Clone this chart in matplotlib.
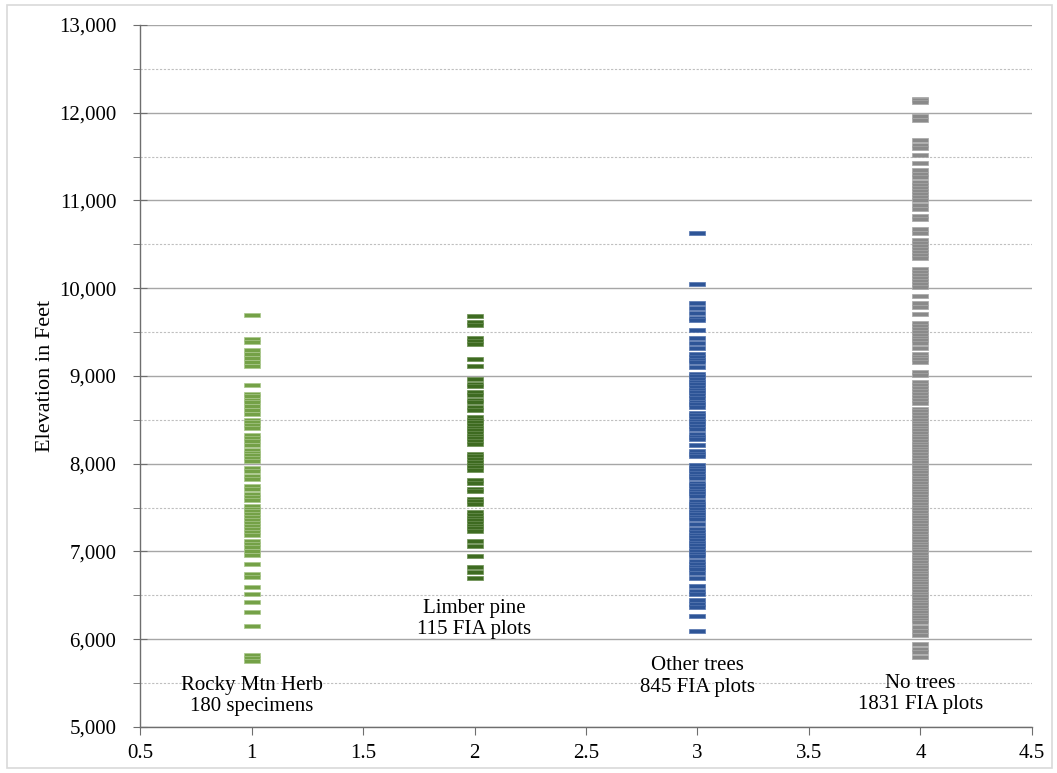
import numpy as np
import matplotlib.pyplot as plt
from matplotlib.patches import Rectangle
from matplotlib.ticker import MultipleLocator, StrMethodFormatter

plt.rcParams['font.family'] = ['Liberation Serif', 'DejaVu Serif']

# elevations (feet) for each group
rocky_herb = [9690, 9424, 9386, 9300, 9253, 9204, 9154, 9116, 8892,
              8797, 8767, 8732, 8702, 8653, 8615, 8569, 8500, 8470, 8436, 8402,
              8330, 8295, 8257, 8219, 8159, 8128, 8094, 8060, 8026, 7950, 7915,
              7858, 7824, 7752, 7714, 7657, 7619, 7589, 7516, 7486, 7456, 7425,
              7391, 7361, 7323, 7289, 7254, 7220, 7186, 7117, 7087, 7049, 7004,
              6965, 6859, 6745, 6707, 6600, 6517, 6422, 6308, 6156, 5822, 5787, 5749]

limber_pine = [9679, 9610, 9576, 9432, 9397, 9367, 9196, 9109, 8968, 8911, 8881,
               8816, 8786, 8729, 8702, 8645, 8615, 8531, 8500, 8470, 8440, 8409,
               8379, 8349, 8318, 8288, 8257, 8227, 8113, 8083, 8052, 8022, 7991,
               7961, 7931, 7817, 7779, 7714, 7687, 7600, 7570, 7539, 7448, 7418,
               7387, 7357, 7326, 7296, 7266, 7235, 7125, 7057, 6943, 6829, 6764, 6699]

other_trees = [10633, 10044, 9835, 9770, 9721, 9664, 9634, 9520, 9436, 9379, 9314,
               9246, 9216, 9185, 9155, 9102, 9026, 8996, 8965, 8935, 8904, 8874,
               8843, 8813, 8782, 8752, 8706, 8676, 8646, 8581, 8551, 8520, 8490,
               8459, 8429, 8399, 8334, 8304, 8277, 8212, 8144, 8114, 8083, 7984,
               7954, 7924, 7893, 7863, 7832, 7783, 7753, 7722, 7692, 7661, 7631,
               7574, 7544, 7513, 7483, 7452, 7422, 7392, 7369, 7308, 7251, 7221,
               7190, 7160, 7130, 7099, 7069, 7038, 7008, 6977, 6947, 6890, 6860,
               6829, 6799, 6757, 6700, 6605, 6548, 6510, 6442, 6404, 6366, 6263, 6092]

no_trees = [12160, 12140, 12127, 11958, 11916, 11692, 11629, 11599, 11515, 11430,
            11346, 11304, 11270, 11211, 11177, 11143, 11110, 11076, 11042, 11008,
            10945, 10903, 10818, 10789, 10671, 10629, 10553, 10519, 10485, 10451,
            10418, 10384, 10350, 10219, 10185, 10152, 10118, 10084, 10050, 10017,
            9911, 9827, 9785, 9709, 9607, 9573, 9540, 9506, 9472, 9438, 9405, 9371,
            9320, 9256, 9222, 9188, 9154, 9046, 9012, 8932, 8898, 8865, 8831, 8797,
            8763, 8730, 8696,
            8624, 8596, 8563, 8531, 8502, 8468, 8441, 8409, 8383, 8352, 8318, 8291,
            8262, 8228, 8201, 8168, 8142, 8109, 8081, 8047, 8021, 7988, 7962, 7929,
            7903, 7868, 7842, 7811, 7779, 7752, 7718, 7691, 7663, 7628, 7601, 7572,
            7538, 7512, 7481, 7452, 7419, 7392, 7361, 7333, 7298, 7271, 7242, 7208,
            7181, 7152, 7119, 7091, 7058, 7032, 7001, 6969, 6942, 6909, 6882, 6848,
            6821, 6792, 6758, 6731, 6702, 6668, 6641, 6612, 6579, 6552, 6521, 6488,
            6462, 6429, 6401, 6372, 6338, 6311, 6282, 6249, 6221, 6192,
            6135, 6092, 6050, 5950, 5885, 5850, 5800]

groups = [1, 2, 3, 4]
series = [rocky_herb, limber_pine, other_trees, no_trees]
labels = ['Rocky Mtn Herb\n180 specimens', 'Limber pine\n115 FIA plots',
          'Other trees\n845 FIA plots', 'No trees\n1831 FIA plots']
label_y = [5355, 6235, 5575, 5375]
face_colors = ['#74a147', '#3e6b21', '#2e5597', '#8a8a8a']
edge_colors = ['#a9c78b', '#6b8f52', '#5475b0', '#a8a8a8']

x_ticks = [0.5, 1, 1.5, 2, 2.5, 3, 3.5, 4, 4.5]
x_tick_labels = ['0.5', '1', '1.5', '2', '2.5', '3', '3.5', '4', '4.5']

# flat dash marker
dash = [(-1, -0.21), (1, -0.21), (1, 0.21), (-1, 0.21), (-1, -0.21)]

fig = plt.figure(figsize=(10.57, 7.73), dpi=100)
ax = fig.add_axes([0.1325, 0.0595, 0.8438, 0.9082])

for x, vals, fc, ec in zip(groups, series, face_colors, edge_colors):
    ax.plot(np.full(len(vals), x), vals, linestyle='none', marker=dash,
            markersize=11.5, markerfacecolor=fc, markeredgecolor=ec,
            markeredgewidth=0.5, zorder=3)

for x, y, txt in zip(groups, label_y, labels):
    ax.text(x, y, txt, ha='center', va='center', fontsize=15, linespacing=1.15)

ax.set_xlim(0.5, 4.5)
ax.set_ylim(5000, 13000)
ax.set_xticks(x_ticks)
ax.set_xticklabels(x_tick_labels)
ax.yaxis.set_major_locator(MultipleLocator(1000))
ax.yaxis.set_minor_locator(MultipleLocator(500))
ax.yaxis.set_major_formatter(StrMethodFormatter('{x:,.0f}'))

ax.grid(True, which='major', axis='y', color='#a6a6a6', linewidth=1.0, zorder=0)
ax.grid(True, which='minor', axis='y', color='#bfbfbf', linewidth=0.8,
        linestyle=(0, (2, 1.5)), zorder=0)
ax.set_axisbelow(True)

for side in ['top', 'right']:
    ax.spines[side].set_visible(False)
for side in ['left', 'bottom']:
    ax.spines[side].set_color('#6e6e6e')
    ax.spines[side].set_linewidth(1.0)

ax.tick_params(axis='y', which='major', direction='inout', length=10,
               color='#6e6e6e', labelsize=15, pad=12)
ax.tick_params(axis='y', which='minor', direction='out', length=5, color='#6e6e6e')
ax.tick_params(axis='x', direction='out', length=6, color='#6e6e6e',
               labelsize=15, pad=6)

ax.set_ylabel('Elevation in Feet', fontsize=16, labelpad=3)

fig.patches.append(Rectangle((0.0066, 0.006), 0.989, 0.988, transform=fig.transFigure,
                             fill=False, edgecolor='#d9d9d9', linewidth=1.2))

fig.savefig('out.png', dpi=100)
